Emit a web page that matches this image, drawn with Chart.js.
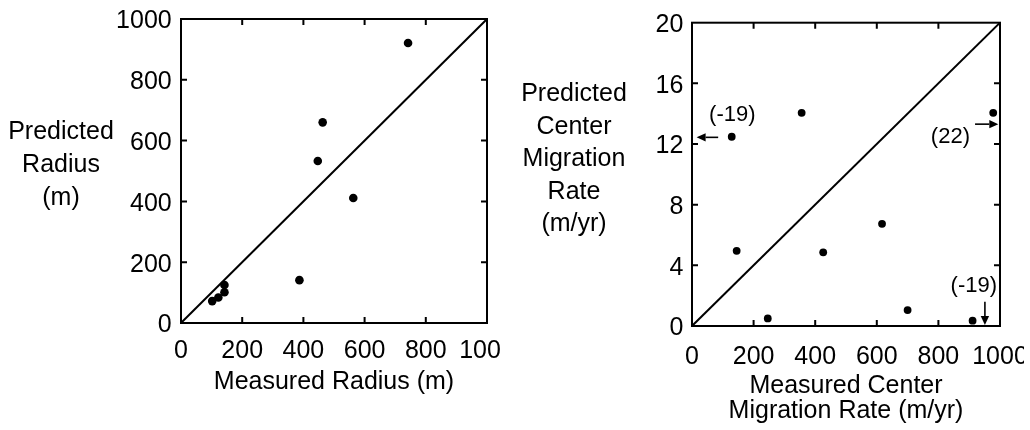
<!DOCTYPE html>
<html><head><meta charset="utf-8">
<script src="https://cdn.jsdelivr.net/npm/chart.js@4.4.1/dist/chart.umd.min.js"></script>
<style>
html,body{margin:0;padding:0;background:#fff;}
#wrap{position:relative;width:1030px;height:430px;overflow:hidden;background:#fff;font-family:'Liberation Sans',Arial,sans-serif;color:#000;}
canvas{position:absolute;top:0;}
.t{position:absolute;font-size:25px;text-align:center;white-space:nowrap;}
</style></head><body>
<div id="wrap">
<canvas id="c1" width="500" height="430" style="left:0px"></canvas>
<canvas id="c2" width="524" height="430" style="left:500px"></canvas>
<div class="t" style="left:0px;top:114px;width:122px;line-height:33px;">Predicted<br>Radius<br>(m)</div>
<div class="t" style="left:508px;top:76px;width:132px;line-height:32.6px;">Predicted<br>Center<br>Migration<br>Rate<br>(m/yr)</div>
<div class="t" style="left:184px;top:365px;width:300px;line-height:30px;">Measured Radius (m)</div>
<div class="t" style="left:696px;top:372px;width:300px;line-height:25px;">Measured Center<br>Migration Rate (m/yr)</div>
</div>
<script>
// ---- data ----
const radiusMeasured  = [742, 463, 447, 563, 387, 142, 142, 122, 102];
const radiusPredicted = [921, 660, 533, 411, 141, 125, 101, 84, 72];
const migMeasured  = [129, 356, 978, 145, 426, 617, 246, 700, 911];
const migPredicted = [12.48, 14.06, 14.06, 4.96, 4.86, 6.74, 0.5, 1.05, 0.35];
const radiusTicks = [0, 200, 400, 600, 800, 1000];
const migXTicks   = [0, 200, 400, 600, 800, 1000];
const migYTicks   = [0, 4, 8, 12, 16, 20];
// off-scale annotations (right panel)
const noteText = ['(-19)', '(22)', '(-19)'];
const noteX    = [131, 839, 915];
const noteY    = [13.91, 12.44, 2.65];
const arrowFromX = [85, 919, 951];
const arrowFromY = [12.44, 13.31, 1.6];
const arrowToX   = [15, 994.5, 951];
const arrowToY   = [12.44, 13.31, 0.07];

const FONT = "'Liberation Sans', Arial, sans-serif";
Chart.defaults.font.family = FONT;
Chart.defaults.font.size = 25;
Chart.defaults.color = '#000';

const framePlugin = {
  id: 'frame',
  afterDatasetsDraw(chart) {
    const {ctx, chartArea: a, scales: {x, y}} = chart;
    ctx.save();
    ctx.strokeStyle = '#000';
    ctx.lineWidth = 2;
    ctx.strokeRect(a.left, a.top, a.right - a.left, a.bottom - a.top);
    const L = 6;
    ctx.beginPath();
    x.ticks.forEach(t => {
      if (t.value === x.min || t.value === x.max) return;
      const px = x.getPixelForValue(t.value);
      ctx.moveTo(px, a.bottom); ctx.lineTo(px, a.bottom - L);
      ctx.moveTo(px, a.top); ctx.lineTo(px, a.top + L);
    });
    y.ticks.forEach(t => {
      if (t.value === y.min || t.value === y.max) return;
      const py = y.getPixelForValue(t.value);
      ctx.moveTo(a.left, py); ctx.lineTo(a.left + L, py);
      ctx.moveTo(a.right, py); ctx.lineTo(a.right - L, py);
    });
    ctx.stroke();
    ctx.restore();
  }
};

const notePlugin = {
  id: 'notes',
  afterDatasetsDraw(chart, args, opts) {
    if (!opts || !opts.on) return;
    const {ctx, scales: {x, y}} = chart;
    ctx.save();
    ctx.fillStyle = '#000'; ctx.strokeStyle = '#000';
    ctx.font = '22px ' + FONT;
    ctx.textAlign = 'center'; ctx.textBaseline = 'middle';
    noteText.forEach((s, i) => ctx.fillText(s, x.getPixelForValue(noteX[i]), y.getPixelForValue(noteY[i])));
    ctx.lineWidth = 1.6;
    arrowFromX.forEach((fx, i) => {
      const x0 = x.getPixelForValue(fx), y0 = y.getPixelForValue(arrowFromY[i]);
      const x1 = x.getPixelForValue(arrowToX[i]), y1 = y.getPixelForValue(arrowToY[i]);
      const ang = Math.atan2(y1 - y0, x1 - x0);
      const hl = 9, hw = 4.2;
      const bx = x1 - hl * Math.cos(ang), by = y1 - hl * Math.sin(ang);
      ctx.beginPath(); ctx.moveTo(x0, y0); ctx.lineTo(bx, by); ctx.stroke();
      ctx.beginPath();
      ctx.moveTo(x1, y1);
      ctx.lineTo(bx + hw * Math.sin(ang), by - hw * Math.cos(ang));
      ctx.lineTo(bx - hw * Math.sin(ang), by + hw * Math.cos(ang));
      ctx.closePath(); ctx.fill();
    });
    ctx.restore();
  }
};

function makeChart(id, xs, ys, xTicks, yTicks, diagMax, geom, notes, radius) {
  const pts = xs.map((v, i) => ({x: v, y: ys[i]}));
  return new Chart(document.getElementById(id), {
    type: 'scatter',
    data: {
      datasets: [
        {data: pts, pointRadius: radius, pointHoverRadius: radius, backgroundColor: '#000', borderWidth: 0},
        {data: [{x: xTicks[0], y: yTicks[0]}, {x: xTicks[xTicks.length - 1], y: diagMax}], showLine: true,
         pointRadius: 0, borderColor: '#000', borderWidth: 2, fill: false}
      ]
    },
    options: {
      responsive: false, animation: false, devicePixelRatio: 1,
      layout: {padding: {left: 0, right: geom.right, top: geom.top, bottom: 0}},
      plugins: {legend: {display: false}, tooltip: {enabled: false}, notes: {on: notes}},
      scales: {
        x: {
          type: 'linear', min: xTicks[0], max: xTicks[xTicks.length - 1],
          grid: {display: false, drawTicks: false}, border: {display: false},
          ticks: {padding: geom.xPad, maxRotation: 0, autoSkip: false, font: {size: 25}, callback: v => String(v)},
          afterBuildTicks: s => { s.ticks = xTicks.map(v => ({value: v})); },
          afterFit: s => { s.height = geom.xH; s.paddingLeft = 0; s.paddingRight = 0; }
        },
        y: {
          type: 'linear', min: yTicks[0], max: yTicks[yTicks.length - 1],
          grid: {display: false, drawTicks: false}, border: {display: false},
          ticks: {padding: geom.yPad, labelOffset: 2.5, autoSkip: false, font: {size: 25}, callback: v => String(v)},
          afterBuildTicks: s => { s.ticks = yTicks.map(v => ({value: v})); },
          afterFit: s => { s.width = geom.yW; s.paddingTop = 0; s.paddingBottom = 0; }
        }
      }
    },
    plugins: [framePlugin, notePlugin]
  });
}

makeChart('c1', radiusMeasured, radiusPredicted, radiusTicks, radiusTicks, 1000,
  {right: 13, top: 19, xH: 107, yW: 181, xPad: 12.8, yPad: 9.3}, false, 4.3);
makeChart('c2', migMeasured, migPredicted, migXTicks, migYTicks, 20,
  {right: 24, top: 22.7, xH: 104, yW: 192, xPad: 15.7, yPad: 8.7}, true, 3.9);
</script>
</body></html>
